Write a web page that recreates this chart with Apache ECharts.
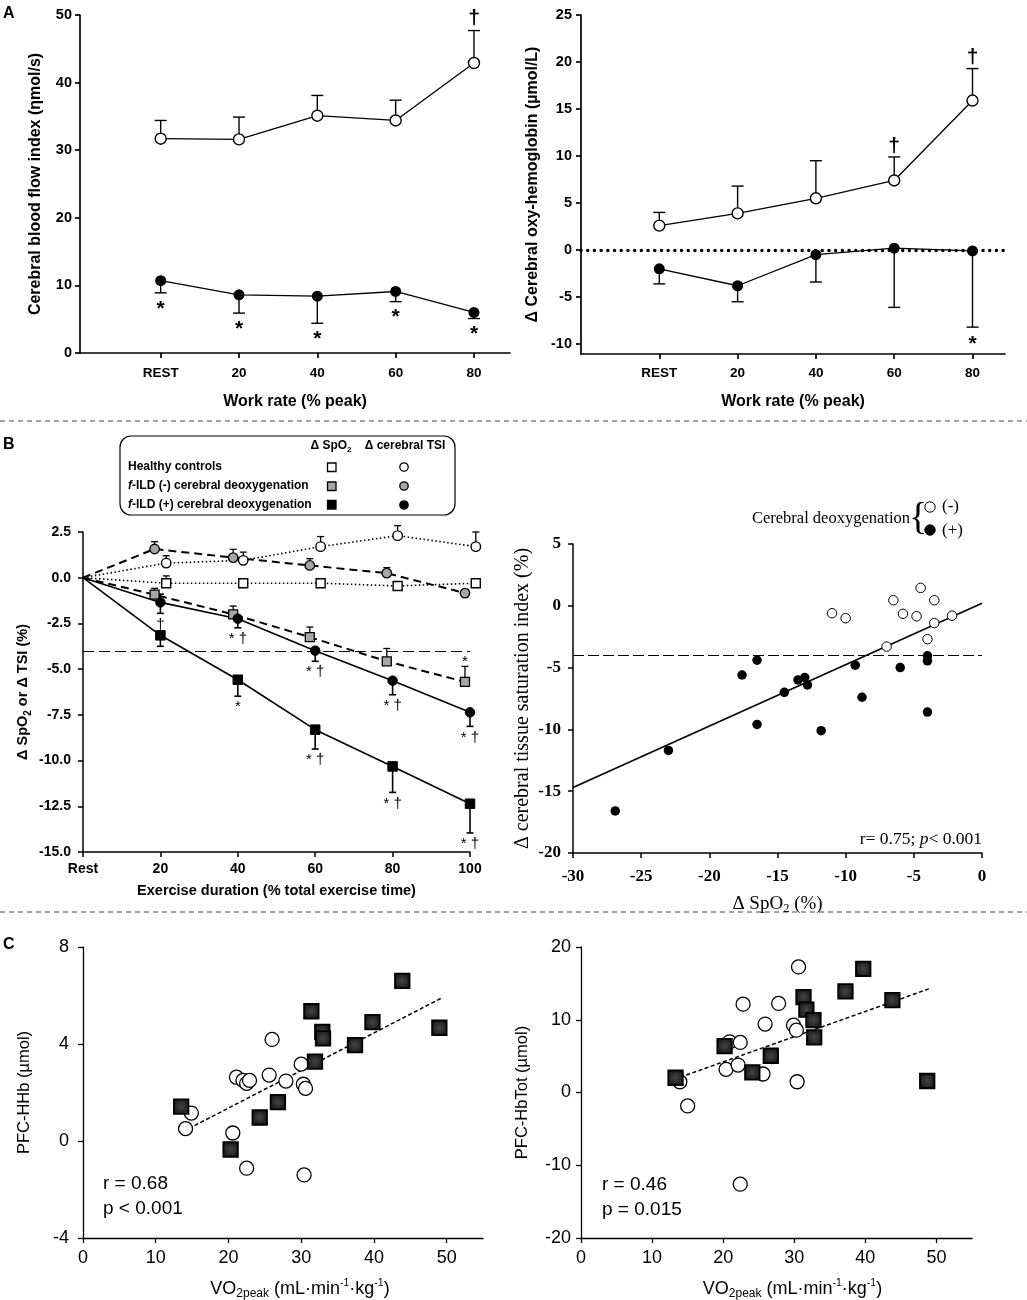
<!DOCTYPE html>
<html><head><meta charset="utf-8">
<script src="https://cdn.jsdelivr.net/npm/echarts@6/dist/echarts.min.js"></script>
<style>html,body{margin:0;padding:0;background:#fff}#c{width:1027px;height:1300px}</style>
</head><body><div id="c"></div>
<script>
const SANS = "'Liberation Sans', Arial, sans-serif";
const SERIF = "'Liberation Serif', 'Times New Roman', serif";

// ---------- Panel A ----------
const aCats = ['REST', '20', '40', '60', '80'];
const aPos = [1, 2, 3, 4, 5];
const aCbfTicks = [0, 10, 20, 30, 40, 50];
const aOxyTicks = [-10, -5, 0, 5, 10, 15, 20, 25];
const aCbfCtrl = [31.7, 31.6, 35.1, 34.4, 42.9];
const aCbfCtrlSdUp = [2.7, 3.3, 3.0, 3.0, 4.8];
const aCbfCtrlMarks = ['', '', '', '', '†'];
const aCbfIld = [10.7, 8.6, 8.4, 9.1, 6.0];
const aCbfIldSdDown = [1.8, 2.7, 4.0, 1.5, 0.9];
const aCbfIldMarks = ['*', '*', '*', '*', '*'];
const aOxyCtrl = [2.6, 3.9, 5.5, 7.4, 15.9];
const aOxyCtrlSdUp = [1.4, 2.9, 4.0, 2.5, 3.4];
const aOxyCtrlMarks = ['', '', '', '†', '†'];
const aOxyIld = [-2.0, -3.8, -0.5, 0.2, -0.1];
const aOxyIldSdDown = [1.6, 1.7, 2.9, 6.3, 8.1];
const aOxyIldMarks = ['', '', '', '', '*'];
const aOxyRef = 0;

// ---------- Panel B (left) ----------
const bTimeTicks = [0, 20, 40, 60, 80, 100];
const bTimeLabels = ['Rest', '20', '40', '60', '80', '100'];
const bYTicks = [-15, -12.5, -10, -7.5, -5, -2.5, 0, 2.5];
const bCtrlX = [0, 21.5, 41.4, 61.4, 81.3, 101.5];
const bMinusX = [0, 18.5, 38.8, 58.6, 78.5, 98.7];
const bPlusX = [0, 20, 40, 60, 80, 100];
const bCtrlSpo2 = [0, -0.3, -0.3, -0.3, -0.45, -0.3];
const bCtrlSpo2Up = [0, 0.4, 0, 0.25, 0, 0.25];
const bCtrlTsi = [0, 0.8, 0.95, 1.7, 2.3, 1.7];
const bCtrlTsiUp = [0, 0.4, 0.45, 0.55, 0.55, 0.8];
const bMinusSpo2 = [0, -0.93, -2.0, -3.25, -4.57, -5.7];
const bMinusSpo2Up = [0, 0.35, 0.45, 0.55, 0.7, 0.85];
const bMinusSpo2Marks = ['', '', '', '', '', '*'];
const bMinusTsi = [0, 1.57, 1.1, 0.67, 0.25, -0.84];
const bMinusTsiUp = [0, 0.4, 0.45, 0.37, 0.3, 0];
const bPlusSpo2 = [0, -3.15, -5.58, -8.31, -10.32, -12.36];
const bPlusSpo2Down = [0, 0.6, 0.9, 1.06, 1.42, 1.6];
const bPlusSpo2Marks = ['', '', '*', '* †', '* †', '* †'];
const bPlusTsi = [0, -1.35, -2.24, -3.99, -5.63, -7.36];
const bPlusTsiDown = [0, 0.6, 0.5, 0.58, 0.77, 0.77];
const bPlusTsiUp = [0, 0.45, 0, 0, 0, 0];
const bPlusTsiMarks = ['', '†', '* †', '* †', '* †', '* †'];
const bThreshold = -4;

// ---------- Panel B (right) ----------
const brXTicks = [-30, -25, -20, -15, -10, -5, 0];
const brYTicks = [-20, -15, -10, -5, 0, 5];
const brMinusX = [-11.0, -10.0, -6.5, -5.8, -4.8, -4.5, -3.5, -3.5, -2.2, -4.0, -7.0];
const brMinusY = [-0.6, -1.0, 0.45, -0.65, -0.85, 1.45, 0.45, -1.4, -0.8, -2.7, -3.3];
const brPlusX = [-26.9, -23.0, -17.6, -16.5, -16.5, -14.5, -13.5, -13.0, -12.8, -11.8, -9.3, -8.8, -6.0, -4.0, -4.0, -4.0];
const brPlusY = [-16.6, -11.7, -5.6, -4.4, -9.6, -7.0, -6.0, -5.8, -6.4, -10.1, -4.8, -7.4, -5.0, -4.05, -4.45, -8.6];
const brFitX = [-30, 0];
const brFitY = [-14.7, 0.2];
const brThreshold = -4;

// ---------- Panel C ----------
const cXTicks = [0, 10, 20, 30, 40, 50];
const cHHbTicks = [-4, 0, 4, 8];
const cTotTicks = [-20, -10, 0, 10, 20];
const cL_SqX = [13.5, 20.3, 24.3, 26.8, 31.4, 31.9, 32.9, 33.0, 37.4, 39.8, 43.9, 49.0];
const cL_SqY = [1.42, -0.35, 0.97, 1.6, 5.35, 3.27, 4.5, 4.23, 3.95, 4.9, 6.6, 4.67];
const cL_CirX = [14.1, 14.9, 20.6, 21.1, 22.0, 22.5, 22.9, 22.5, 25.6, 26.0, 27.9, 30.0, 30.3, 30.6, 30.4];
const cL_CirY = [0.51, 1.15, 0.33, 2.63, 2.5, 2.38, 2.5, -1.12, 2.72, 4.19, 2.47, 3.17, 2.34, 2.17, -1.4];
const cL_FitX = [13.75, 49.2];
const cL_FitY = [0.39, 5.88];
const cR_SqX = [13.3, 20.2, 24.1, 26.7, 31.3, 31.7, 32.7, 32.8, 37.2, 39.7, 43.8, 48.7];
const cR_SqY = [2.03, 6.38, 2.77, 5.05, 13.1, 11.4, 9.95, 7.57, 13.9, 17.0, 12.7, 1.58];
const cR_CirX = [13.9, 15.0, 20.4, 20.9, 22.8, 22.1, 22.4, 22.4, 25.6, 25.9, 27.8, 29.9, 30.3, 30.6, 30.4];
const cR_CirY = [1.48, -1.85, 3.18, 6.97, 12.14, 3.77, 6.88, -12.6, 2.54, 9.4, 12.24, 9.26, 8.57, 17.26, 1.48];
const cR_FitX = [14.8, 49.1];
const cR_FitY = [2.4, 14.3];

// ---------- helpers ----------
function axis(o) {
  return {
    type: 'value', gridIndex: o.grid, min: o.min, max: o.max,
    axisLine: { show: true, onZero: false, lineStyle: { color: '#000', width: o.lw || 1.5 } },
    axisTick: { show: true, inside: false, length: o.tl || 5, customValues: o.ticks,
      lineStyle: { color: '#000', width: o.lw || 1.5 } },
    axisLabel: { show: true, customValues: o.ticks, formatter: o.fmt, margin: o.margin,
      color: '#000', fontFamily: o.ff, fontSize: o.fs, fontWeight: o.fw },
    splitLine: { show: false }, minorTick: { show: false }, minorSplitLine: { show: false },
    name: o.name, nameLocation: 'middle', nameGap: o.gap, nameRotate: o.rot,
    nameTextStyle: o.nts
  };
}

function errSeries(xi, xs, ys, up, down, marks, o) {
  const data = xs.map((x, i) => [x, ys[i], down ? down[i] : 0, up ? up[i] : 0]);
  return {
    type: 'custom', xAxisIndex: xi, yAxisIndex: xi, z: 1, silent: true, clip: false,
    encode: { x: 0, y: 1 }, data,
    renderItem(params, api) {
      const i = params.dataIndex;
      const x = api.value(0), y = api.value(1), lo = api.value(2), hi = api.value(3);
      const c = api.coord([x, y]);
      const kids = [];
      const st = { stroke: '#000', lineWidth: o.lw };
      let top = c, bot = c;
      if (hi > 0) {
        top = api.coord([x, y + hi]);
        kids.push({ type: 'line', shape: { x1: c[0], y1: c[1], x2: top[0], y2: top[1] }, style: st });
        kids.push({ type: 'line', shape: { x1: top[0] - o.cap / 2, y1: top[1], x2: top[0] + o.cap / 2, y2: top[1] }, style: st });
      }
      if (lo > 0) {
        bot = api.coord([x, y - lo]);
        kids.push({ type: 'line', shape: { x1: c[0], y1: c[1], x2: bot[0], y2: bot[1] }, style: st });
        kids.push({ type: 'line', shape: { x1: bot[0] - o.cap / 2, y1: bot[1], x2: bot[0] + o.cap / 2, y2: bot[1] }, style: st });
      }
      const m = marks ? marks[i] : '';
      if (m) {
        const a = o.markAbove ? top : bot;
        const dy = o.markAbove ? -o.markGap : o.markGap;
        kids.push({ type: 'text', style: { text: m, x: a[0], y: a[1] + dy, fill: '#000',
          font: o.markFont, align: 'center', verticalAlign: 'middle',
          textAlign: 'center', textVerticalAlign: 'middle' } });
      }
      return { type: 'group', children: kids };
    }
  };
}

function lineS(xi, xs, ys, o) {
  return {
    type: o.scatter ? 'scatter' : 'line', xAxisIndex: xi, yAxisIndex: xi, z: o.z || 3,
    silent: true, clip: false,
    data: xs.map((x, i) => (o.skipFirst && i === 0) ? { value: [x, ys[i]], symbol: 'none' } : [x, ys[i]]),
    symbol: o.symbol || 'none', symbolSize: o.size || 0, showSymbol: !!o.symbol,
    lineStyle: { color: '#000', width: o.lw == null ? 1.3 : o.lw, type: o.ltype || 'solid' },
    itemStyle: { color: o.fill || '#000', borderColor: '#000', borderWidth: o.bw || 0, opacity: 1 },
    markLine: o.markLine
  };
}

const nameSansBold = (fs) => ({ color: '#000', fontFamily: SANS, fontSize: fs, fontWeight: 'bold' });

const grids = [
  { left: 80, top: 15, width: 430, height: 338 },
  { left: 581, top: 15, width: 424, height: 339 },
  { left: 83, top: 532, width: 387, height: 320 },
  { left: 573, top: 544, width: 409, height: 309 },
  { left: 83, top: 947, width: 400, height: 291 },
  { left: 581, top: 947, width: 391, height: 291 }
].map(g => Object.assign(g, { containLabel: false, outerBoundsMode: 'none', show: false }));

const catFmt = v => aCats[aPos.indexOf(Math.round(v))];

const vo2Name = '{n|VO}{s|2peak}{n| (mL·min}{u|-1}{n|·kg}{u|-1}{n|)}';
const vo2Style = (pad) => ({ padding: [0, 0, 0, pad], rich: {
  n: { fontFamily: SANS, fontSize: 18, color: '#000', lineHeight: 22 },
  s: { fontFamily: SANS, fontSize: 12, color: '#000', lineHeight: 12, verticalAlign: 'bottom' },
  u: { fontFamily: SANS, fontSize: 10.5, color: '#000', lineHeight: 10, verticalAlign: 'top' } } });

const xAxes = [
  axis({ grid: 0, min: -0.03, max: 5.46, ticks: aPos, fmt: catFmt, margin: 13, ff: SANS, fs: 13.5, fw: 'bold', lw: 1.7,
    name: 'Work rate (% peak)', gap: 41, nts: nameSansBold(16) }),
  axis({ grid: 1, min: 0, max: 5.415, ticks: aPos, fmt: catFmt, margin: 12, ff: SANS, fs: 13.5, fw: 'bold', lw: 1.7,
    name: 'Work rate (% peak)', gap: 40, nts: nameSansBold(16) }),
  axis({ grid: 2, min: 0, max: 100, ticks: bTimeTicks, fmt: v => bTimeLabels[bTimeTicks.indexOf(v)], margin: 10, ff: SANS, fs: 14, fw: 'bold',
    name: 'Exercise duration (% total exercise time)', gap: 31, nts: nameSansBold(14.5) }),
  axis({ grid: 3, min: -30, max: 0, ticks: brXTicks, fmt: v => String(v), margin: 15, ff: SERIF, fs: 17, fw: 'bold',
    name: '{b|Δ SpO}{s|2}{b| (%)}', gap: 40,
    nts: { rich: { b: { fontFamily: SERIF, fontSize: 19, color: '#000', lineHeight: 22 },
      s: { fontFamily: SERIF, fontSize: 12.5, color: '#000', lineHeight: 12, verticalAlign: 'bottom' } } } }),
  axis({ grid: 4, min: 0, max: 55, ticks: cXTicks, fmt: v => String(v), margin: 11, ff: SANS, fs: 18, fw: 'normal', lw: 1.3,
    name: vo2Name, gap: 40, nts: vo2Style(34) }),
  axis({ grid: 5, min: 0, max: 55, ticks: cXTicks, fmt: v => String(v), margin: 11, ff: SANS, fs: 18, fw: 'normal', lw: 1.3,
    name: vo2Name, gap: 40, nts: vo2Style(32) })
];

const yAxes = [
  axis({ grid: 0, min: 0, max: 50, ticks: aCbfTicks, fmt: v => String(v), margin: 8, ff: SANS, fs: 14.5, fw: 'bold', lw: 1.7,
    name: 'Cerebral blood flow index (ηmol/s)', gap: 36, rot: 90, nts: nameSansBold(16) }),
  axis({ grid: 1, min: -11.06, max: 25, ticks: aOxyTicks, fmt: v => String(v), margin: 9, ff: SANS, fs: 14.5, fw: 'bold', lw: 1.7,
    name: 'Δ Cerebral oxy-hemoglobin (µmol/L)', gap: 40, rot: 90, nts: nameSansBold(16) }),
  axis({ grid: 2, min: -15, max: 2.5, ticks: bYTicks, fmt: v => v.toFixed(1), margin: 12, ff: SANS, fs: 14, fw: 'bold',
    name: '{b|Δ SpO}{s|2}{b| or Δ TSI (%)}', gap: 50, rot: 90,
    nts: { rich: { b: { fontFamily: SANS, fontSize: 14.5, fontWeight: 'bold', color: '#000', lineHeight: 20 },
      s: { fontFamily: SANS, fontSize: 10, fontWeight: 'bold', color: '#000', lineHeight: 10, verticalAlign: 'bottom' } } } }),
  axis({ grid: 3, min: -20, max: 5, ticks: brYTicks, fmt: v => String(v), margin: 12, ff: SERIF, fs: 17, fw: 'bold',
    name: 'Δ cerebral tissue saturation index (%)', gap: 40, rot: 90,
    nts: { color: '#000', fontFamily: SERIF, fontSize: 20 } }),
  axis({ grid: 4, min: -4, max: 8, ticks: cHHbTicks, fmt: v => String(v), margin: 14, ff: SANS, fs: 18, fw: 'normal', lw: 1.3,
    name: 'PFC-HHb (µmol)', gap: 50, rot: 90, nts: { color: '#000', fontFamily: SANS, fontSize: 16.5 } }),
  axis({ grid: 5, min: -20, max: 20, ticks: cTotTicks, fmt: v => String(v), margin: 10, ff: SANS, fs: 18, fw: 'normal', lw: 1.3,
    name: 'PFC-HbTot (µmol)', gap: 50, rot: 90, nts: { color: '#000', fontFamily: SANS, fontSize: 16.5 } })
];

const starFontA = 'bold 21px ' + SANS;
const markFontB = '15px ' + SANS;

const dotted = [1.5, 2.5];
const dashed = [8, 5];
const grayFill = '#a6a6a6';
const sqFill = { type: 'radial', x: 0.5, y: 0.5, r: 0.6,
  colorStops: [{ offset: 0, color: '#444' }, { offset: 1, color: '#111' }] };

const series = [
  // Panel A left
  errSeries(0, aPos, aCbfCtrl, aCbfCtrlSdUp, null, aCbfCtrlMarks, { lw: 1.4, cap: 12, markAbove: true, markGap: 12, markFont: starFontA }),
  errSeries(0, aPos, aCbfIld, null, aCbfIldSdDown, aCbfIldMarks, { lw: 1.4, cap: 12, markAbove: false, markGap: 16, markFont: starFontA }),
  lineS(0, aPos, aCbfCtrl, { symbol: 'circle', size: 11, fill: '#fff', bw: 1.4, lw: 1.3 }),
  lineS(0, aPos, aCbfIld, { symbol: 'circle', size: 11, fill: '#000', bw: 0, lw: 1.3 }),
  // Panel A right
  errSeries(1, aPos, aOxyCtrl, aOxyCtrlSdUp, null, aOxyCtrlMarks, { lw: 1.4, cap: 12, markAbove: true, markGap: 11, markFont: starFontA }),
  errSeries(1, aPos, aOxyIld, null, aOxyIldSdDown, aOxyIldMarks, { lw: 1.4, cap: 12, markAbove: false, markGap: 17, markFont: starFontA }),
  lineS(1, aPos, aOxyCtrl, { symbol: 'circle', size: 11, fill: '#fff', bw: 1.4, lw: 1.3 }),
  lineS(1, aPos, aOxyIld, { symbol: 'circle', size: 11, fill: '#000', bw: 0, lw: 1.3,
    markLine: { silent: true, symbol: 'none', animation: false, label: { show: false },
      lineStyle: { color: '#000', width: 3.4, type: [0.1, 6.6], cap: 'round' }, data: [{ yAxis: aOxyRef }] } }),
  // Panel B left
  errSeries(2, bCtrlX, bCtrlSpo2, bCtrlSpo2Up, null, null, { lw: 1.3, cap: 7 }),
  errSeries(2, bCtrlX, bCtrlTsi, bCtrlTsiUp, null, null, { lw: 1.3, cap: 7 }),
  errSeries(2, bMinusX, bMinusSpo2, bMinusSpo2Up, null, bMinusSpo2Marks, { lw: 1.3, cap: 7, markAbove: true, markGap: 5, markFont: markFontB }),
  errSeries(2, bMinusX, bMinusTsi, bMinusTsiUp, null, null, { lw: 1.3, cap: 7 }),
  errSeries(2, bPlusX, bPlusSpo2, null, bPlusSpo2Down, bPlusSpo2Marks, { lw: 1.6, cap: 7, markAbove: false, markGap: 11, markFont: markFontB }),
  errSeries(2, bPlusX, bPlusTsi, bPlusTsiUp, bPlusTsiDown, bPlusTsiMarks, { lw: 1.6, cap: 7, markAbove: false, markGap: 11, markFont: markFontB }),
  lineS(2, bCtrlX, bCtrlSpo2, { symbol: 'rect', size: 9, fill: '#fff', bw: 1.4, lw: 1.6, ltype: dotted, skipFirst: true }),
  lineS(2, bCtrlX, bCtrlTsi, { symbol: 'circle', size: 9.5, fill: '#fff', bw: 1.4, lw: 1.6, ltype: dotted, skipFirst: true }),
  lineS(2, bMinusX, bMinusSpo2, { symbol: 'rect', size: 9, fill: grayFill, bw: 1.3, lw: 2, ltype: dashed, skipFirst: true,
    markLine: { silent: true, symbol: 'none', animation: false, label: { show: false },
      lineStyle: { color: '#000', width: 1, type: [11, 5] }, data: [{ yAxis: bThreshold }] } }),
  lineS(2, bMinusX, bMinusTsi, { symbol: 'circle', size: 9.5, fill: grayFill, bw: 1.3, lw: 2, ltype: dashed, skipFirst: true }),
  lineS(2, bPlusX, bPlusSpo2, { symbol: 'rect', size: 9.5, fill: '#000', bw: 1, lw: 1.6, skipFirst: true }),
  lineS(2, bPlusX, bPlusTsi, { symbol: 'circle', size: 9.5, fill: '#000', bw: 1, lw: 1.6, skipFirst: true }),
  // Panel B right
  lineS(3, brFitX, brFitY, { lw: 1.6, z: 2,
    markLine: { silent: true, symbol: 'none', animation: false, label: { show: false },
      lineStyle: { color: '#000', width: 1, type: [11, 4] }, data: [{ yAxis: brThreshold }] } }),
  lineS(3, brMinusX, brMinusY, { scatter: true, symbol: 'circle', size: 9.5, fill: '#fff', bw: 1 }),
  lineS(3, brPlusX, brPlusY, { scatter: true, symbol: 'circle', size: 9.5, fill: '#000', bw: 0 }),
  // Panel C left
  lineS(4, cL_FitX, cL_FitY, { lw: 1.5, ltype: [4, 2.5], z: 2 }),
  lineS(4, cL_CirX, cL_CirY, { scatter: true, symbol: 'circle', size: 14, fill: '#fff', bw: 1.3 }),
  lineS(4, cL_SqX, cL_SqY, { scatter: true, symbol: 'rect', size: 14.5, fill: sqFill, bw: 1.8, z: 4 }),
  // Panel C right
  lineS(5, cR_FitX, cR_FitY, { lw: 1.5, ltype: [4, 2.5], z: 2 }),
  lineS(5, cR_CirX, cR_CirY, { scatter: true, symbol: 'circle', size: 14, fill: '#fff', bw: 1.3 }),
  lineS(5, cR_SqX, cR_SqY, { scatter: true, symbol: 'rect', size: 14.5, fill: sqFill, bw: 1.8, z: 4 })
];

const T = (x, y, text, font, align, extra) => ({ type: 'text', x, y, silent: true,
  style: Object.assign({ text, font, fill: '#000', align: align || 'left', verticalAlign: 'middle' }, extra || {}) });

const legFont = 'bold 12px ' + SANS;
const graphic = [
  // separators
  { type: 'line', silent: true, shape: { x1: 0, y1: 421, x2: 1027, y2: 421 }, style: { stroke: '#444', lineWidth: 1, lineDash: [5, 4] } },
  { type: 'line', silent: true, shape: { x1: 0, y1: 912, x2: 1027, y2: 912 }, style: { stroke: '#444', lineWidth: 1, lineDash: [5, 4] } },
  // panel letters
  T(3, 14, 'A', 'bold 16px ' + SANS),
  T(3, 445, 'B', 'bold 16px ' + SANS),
  T(3, 945, 'C', 'bold 16px ' + SANS),
  // legend box B
  { type: 'rect', silent: true, shape: { x: 120, y: 436, width: 335, height: 79, r: 11 }, style: { fill: 'none', stroke: '#000', lineWidth: 1.2 } },
  { type: 'text', x: 331, y: 446, silent: true, style: { text: '{b|Δ SpO}{s|2}', align: 'center', verticalAlign: 'middle',
    rich: { b: { font: legFont, fill: '#000', lineHeight: 16 }, s: { font: 'bold 8px ' + SANS, fill: '#000', lineHeight: 8, verticalAlign: 'bottom' } } } },
  T(405, 446, 'Δ cerebral TSI', legFont, 'center'),
  T(128, 467, 'Healthy controls', legFont),
  { type: 'text', x: 128, y: 486, silent: true, style: { text: '{i|f}{b|-ILD (-) cerebral deoxygenation}', align: 'left', verticalAlign: 'middle',
    rich: { i: { font: 'italic bold 12px ' + SANS, fill: '#000' }, b: { font: legFont, fill: '#000' } } } },
  { type: 'text', x: 128, y: 505, silent: true, style: { text: '{i|f}{b|-ILD (+) cerebral deoxygenation}', align: 'left', verticalAlign: 'middle',
    rich: { i: { font: 'italic bold 12px ' + SANS, fill: '#000' }, b: { font: legFont, fill: '#000' } } } },
  { type: 'rect', silent: true, shape: { x: 327.5, y: 463, width: 8.5, height: 8.5 }, style: { fill: '#fff', stroke: '#000', lineWidth: 1.3 } },
  { type: 'rect', silent: true, shape: { x: 327.5, y: 482, width: 8.5, height: 8.5 }, style: { fill: grayFill, stroke: '#000', lineWidth: 1.3 } },
  { type: 'rect', silent: true, shape: { x: 327.5, y: 500.5, width: 8.5, height: 8.5 }, style: { fill: '#000', stroke: '#000', lineWidth: 1.3 } },
  { type: 'circle', silent: true, shape: { cx: 404, cy: 467, r: 4.2 }, style: { fill: '#fff', stroke: '#000', lineWidth: 1.3 } },
  { type: 'circle', silent: true, shape: { cx: 404, cy: 486, r: 4.2 }, style: { fill: grayFill, stroke: '#000', lineWidth: 1.3 } },
  { type: 'circle', silent: true, shape: { cx: 404, cy: 505, r: 4.2 }, style: { fill: '#000', stroke: '#000', lineWidth: 1.3 } },
  // B right legend
  T(910, 519, 'Cerebral deoxygenation', '16.5px ' + SERIF, 'right'),
  T(918, 519, '{', '38px ' + SERIF, 'center'),
  { type: 'circle', silent: true, shape: { cx: 930, cy: 507, r: 5.2 }, style: { fill: '#fff', stroke: '#000', lineWidth: 1 } },
  { type: 'circle', silent: true, shape: { cx: 930, cy: 530, r: 5.2 }, style: { fill: '#000', stroke: '#000', lineWidth: 1 } },
  T(942, 507, '(-)', '17px ' + SERIF),
  T(942, 531, '(+)', '17px ' + SERIF),
  { type: 'text', x: 982, y: 839, silent: true, style: { text: '{n|r= 0.75; }{i|p}{n|< 0.001}', align: 'right', verticalAlign: 'middle',
    rich: { n: { font: '17.5px ' + SERIF, fill: '#000' }, i: { font: 'italic 17.5px ' + SERIF, fill: '#000' } } } },
  // C stats
  T(103, 1184, 'r = 0.68', '19px ' + SANS),
  T(103, 1209, 'p < 0.001', '19px ' + SANS),
  T(602, 1185, 'r = 0.46', '19px ' + SANS),
  T(602, 1210, 'p = 0.015', '19px ' + SANS)
];

const chart = echarts.init(document.getElementById('c'), null, { renderer: 'canvas' });
chart.setOption({
  backgroundColor: '#fff',
  animation: false,
  grid: grids,
  xAxis: xAxes,
  yAxis: yAxes,
  series,
  graphic
});
</script></body></html>
